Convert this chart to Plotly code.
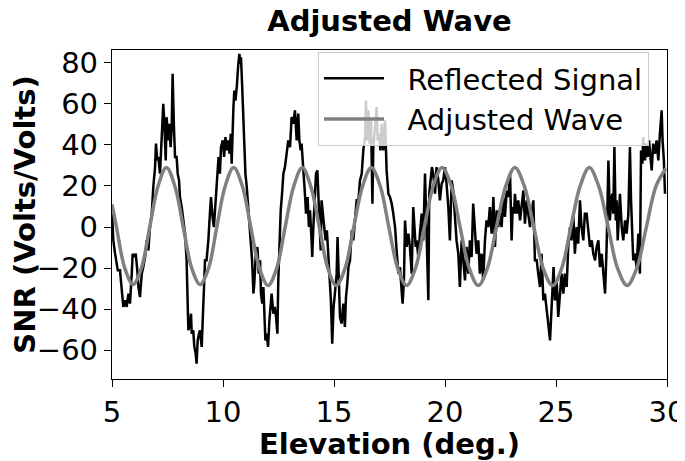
import plotly.graph_objects as go

# Reflected signal (elevation in degrees, SNR in Volts/Volts)
sig_x = [5.00, 5.06, 5.14, 5.26, 5.36, 5.44, 5.51, 5.59, 5.66, 5.74, 5.81, 5.89, 5.93, 6.01, 6.07, 6.14, 6.19, 6.26, 6.34, 6.41,
         6.49, 6.56, 6.64, 6.71, 6.79, 6.86, 6.94, 6.98, 7.04, 7.09, 7.16, 7.24, 7.31, 7.36, 7.42, 7.46, 7.54, 7.58, 7.64, 7.69,
         7.73, 7.79, 7.84, 7.91, 7.96, 8.02, 8.06, 8.14, 8.21, 8.29, 8.36, 8.41, 8.44, 8.51, 8.56, 8.59, 8.66, 8.71, 8.77, 8.81,
         8.86, 8.92, 8.96, 9.04, 9.08, 9.14, 9.19, 9.26, 9.34, 9.41, 9.46, 9.53, 9.59, 9.64, 9.71, 9.76, 9.80, 9.86, 9.91, 9.99,
         10.05, 10.11, 10.17, 10.24, 10.29, 10.35, 10.39, 10.47, 10.51, 10.56, 10.62, 10.69, 10.74, 10.77, 10.81, 10.86, 10.89, 10.92, 10.96, 11.01,
         11.07, 11.11, 11.17, 11.22, 11.26, 11.31, 11.37, 11.41, 11.47, 11.55, 11.61, 11.67, 11.71, 11.77, 11.82, 11.86, 11.91, 11.97, 12.03, 12.09,
         12.15, 12.19, 12.27, 12.33, 12.39, 12.45, 12.49, 12.54, 12.60, 12.66, 12.72, 12.79, 12.87, 12.94, 13.02, 13.09, 13.17, 13.24, 13.32, 13.39,
         13.44, 13.50, 13.54, 13.62, 13.69, 13.74, 13.81, 13.87, 13.92, 13.99, 14.02, 14.07, 14.14, 14.19, 14.25, 14.29, 14.34, 14.40, 14.44, 14.50,
         14.56, 14.62, 14.68, 14.74, 14.80, 14.86, 14.92, 14.98, 15.04, 15.12, 15.16, 15.22, 15.27, 15.34, 15.42, 15.49, 15.54, 15.60, 15.65, 15.72,
         15.80, 15.87, 15.95, 16.02, 16.10, 16.17, 16.25, 16.32, 16.40, 16.44, 16.49, 16.55, 16.61, 16.67, 16.73, 16.77, 16.85, 16.92, 16.97, 17.03,
         17.09, 17.15, 17.22, 17.30, 17.37, 17.45, 17.52, 17.60, 17.67, 17.75, 17.82, 17.90, 17.97, 18.05, 18.09, 18.15, 18.20, 18.27, 18.35, 18.42,
         18.50, 18.57, 18.62, 18.68, 18.72, 18.80, 18.87, 18.95, 19.02, 19.10, 19.14, 19.20, 19.25, 19.29, 19.35, 19.41, 19.47, 19.55, 19.62, 19.70,
         19.77, 19.85, 19.92, 20.00, 20.07, 20.15, 20.22, 20.30, 20.37, 20.45, 20.52, 20.60, 20.67, 20.75, 20.82, 20.90, 20.97, 21.05, 21.12, 21.20,
         21.27, 21.35, 21.42, 21.50, 21.57, 21.65, 21.72, 21.80, 21.87, 21.95, 22.02, 22.10, 22.18, 22.25, 22.33, 22.40, 22.48, 22.55, 22.63, 22.70,
         22.78, 22.85, 22.93, 23.00, 23.05, 23.11, 23.15, 23.23, 23.30, 23.38, 23.45, 23.53, 23.60, 23.68, 23.75, 23.83, 23.90, 23.98, 24.05, 24.13,
         24.20, 24.28, 24.35, 24.43, 24.50, 24.58, 24.65, 24.73, 24.80, 24.85, 24.89, 24.95, 25.03, 25.10, 25.18, 25.25, 25.33, 25.40, 25.48, 25.55,
         25.63, 25.70, 25.78, 25.85, 25.93, 26.00, 26.08, 26.15, 26.23, 26.30, 26.38, 26.46, 26.53, 26.61, 26.68, 26.76, 26.83, 26.91, 26.98, 27.06,
         27.13, 27.21, 27.28, 27.36, 27.43, 27.48, 27.54, 27.58, 27.63, 27.69, 27.73, 27.78, 27.84, 27.88, 27.96, 28.03, 28.11, 28.18, 28.26, 28.33,
         28.38, 28.44, 28.48, 28.56, 28.63, 28.71, 28.78, 28.83, 28.89, 28.93, 29.01, 29.05, 29.13, 29.19, 29.25, 29.31, 29.38, 29.46, 29.53, 29.61,
         29.68, 29.76, 29.80, 29.86, 29.91]
sig_y = [6.5, -6.5, -13.0, -21.1, -21.1, -32.4, -38.9, -35.7, -38.9, -32.4, -37.3, -22.7, -13.0, -14.6, -13.0, -21.1, -29.2, -34.1, -22.7, -19.5,
         -14.6, -6.5, -11.4, 0.0, 6.5, 19.5, 29.2, 40.6, 32.4, 34.1, 26.0, 43.8, 60.0, 50.3, 32.4, 53.5, 42.2, 50.3, 38.9, 48.7,
         74.6, 48.7, 34.1, 34.1, 26.0, 22.7, 14.6, 9.7, 3.2, -3.2, -16.2, -32.4, -50.3, -47.0, -42.2, -51.9, -50.3, -58.4, -61.6, -66.5,
         -55.2, -51.9, -50.3, -58.4, -47.0, -26.0, -16.2, -16.2, -6.5, 6.5, 14.6, 4.9, 0.0, 8.1, 19.5, 29.2, 34.1, 26.0, 38.9, 42.2,
         34.1, 43.8, 37.3, 42.2, 35.7, 45.4, 30.8, 58.4, 66.5, 61.6, 68.1, 79.5, 84.3, 79.5, 82.7, 69.7, 58.4, 50.3, 34.1, 26.0,
         19.5, 13.0, 3.2, 0.0, -9.7, -16.2, -32.4, -27.6, -14.6, -9.7, -22.7, -16.2, -32.4, -37.3, -29.2, -42.2, -55.2, -51.9, -58.4, -45.4,
         -38.9, -32.4, -42.2, -38.9, -43.8, -51.9, -26.0, -6.5, 8.1, 16.2, 26.0, 29.2, 35.7, 42.2, 38.9, 53.5, 50.3, 56.8, 42.2, 55.2,
         42.2, 37.3, 40.6, 29.2, 16.2, 6.5, 14.6, 0.0, 8.1, -6.5, -14.6, 0.0, 19.5, 26.0, 27.6, 14.6, 3.2, -11.4, 13.0, 6.5,
         0.0, -6.5, -1.6, -14.6, -27.6, -35.7, -56.8, -38.9, -32.4, -22.7, -4.9, -22.7, -43.8, -47.0, -37.3, -48.7, -34.1, -27.6, -19.5, -16.2,
         -1.6, -6.5, 3.2, 13.0, 13.0, 22.7, 26.0, 37.3, 43.8, 61.6, 42.2, 56.8, 40.6, 51.9, 11.4, 38.9, 48.7, 58.4, 42.2, 45.4,
         37.3, 50.3, 37.3, 51.9, 27.6, 16.2, 14.6, 11.4, 6.5, 0.0, -11.4, -22.7, -19.5, -32.4, -37.3, -26.0, 3.2, -9.7, -3.2, -9.7,
         -22.7, 9.7, 0.0, -9.7, -6.5, -14.6, -3.2, 6.5, -6.5, 26.0, 9.7, -9.7, -35.7, 16.2, 22.7, 29.2, 26.0, 16.2, 29.2, 22.7,
         13.0, 21.1, 22.7, 29.2, 21.1, 9.7, -6.5, 22.7, 17.8, 3.2, -6.5, -13.0, -29.2, -6.5, -16.2, -26.0, -9.7, -22.7, -6.5, -14.6,
         11.4, 0.0, -13.0, -6.5, -22.7, -13.0, -26.0, -6.5, 3.2, 0.0, 9.7, -3.2, 14.6, -9.7, 8.1, 0.0, 6.5, 0.0, 14.6, 4.9,
         17.8, 14.6, 26.0, -6.5, 9.7, 6.5, 16.2, 6.5, 13.0, 3.2, 9.7, 17.8, 1.6, 13.0, 6.5, 0.0, 6.5, 13.0, -16.2, -16.2,
         -22.7, -29.2, -13.0, -35.7, -32.4, -42.2, -47.0, -55.2, -42.2, -29.2, -19.5, -35.7, -26.0, -43.8, -32.4, -22.7, -32.4, -22.7, -29.2, -9.7,
         0.0, -6.5, 6.5, -13.0, 0.0, -8.1, 13.0, 0.0, -6.5, 6.5, 6.5, -3.2, -9.7, -6.5, -13.0, -16.2, -9.7, -6.5, -19.5, -13.0,
         -22.7, -32.4, -9.7, 32.4, 3.2, 13.0, 16.2, 6.5, 38.9, 3.2, 13.0, -6.5, 6.5, 16.2, 0.0, -6.5, 3.2, -3.2, 6.5, 38.9,
         13.0, -3.2, -16.2, -13.0, -19.5, -3.2, -22.7, 37.3, 30.8, 43.8, 32.4, 40.6, 34.1, 42.2, 35.7, 27.6, 40.6, 35.7, 42.2, 32.4,
         45.4, 56.8, 42.2, 32.4, 16.2]

# Adjusted (fitted) wave, read at extremes, eighth-periods and zero crossings
wave_x = [5.00, 5.20, 5.575, 5.95, 6.325, 6.70, 7.075, 7.45, 7.83, 8.21, 8.59, 8.97, 9.35, 9.72, 10.10, 10.48,
          10.87, 11.25, 11.64, 12.03, 12.42, 12.80, 13.19, 13.57, 13.95, 14.34, 14.72, 15.10, 15.50, 15.89, 16.29, 16.68,
          17.08, 17.47, 17.87, 18.27, 18.67, 19.07, 19.47, 19.87, 20.28, 20.68, 21.09, 21.50, 21.91, 22.32, 22.74, 23.15,
          23.57, 24.00, 24.42, 24.85, 25.26, 25.67, 26.09, 26.50, 26.92, 27.35, 27.77, 28.20, 28.64, 29.07, 29.51, 29.95]
wave_y = [11, 0, -20, -28, -20, 0, 20, 29, 20, 0, -20, -28, -20, 0, 20, 29,
          20, 0, -20, -28.5, -20, 0, 20, 29, 20, 0, -20, -28.5, -20, 0, 20, 29,
          20, 0, -20, -28.5, -20, 0, 20, 29, 20, 0, -20, -28.5, -20, 0, 20, 29,
          20, 0, -20, -28.5, -20, 0, 20, 29, 20, 0, -20, -28.5, -20, 0, 20, 28.5]

x_ticks = [5, 10, 15, 20, 25, 30]
y_ticks = [-60, -40, -20, 0, 20, 40, 60, 80]

FONT = "DejaVu Sans"
FS = 29
GAP = "\u00a0\u00a0"

# The page body has an 8px default margin, so the figure's left/top margins are
# 8px narrower to land the plot where the reference has it.
W, H = 690, 453

fig = go.Figure()
fig.add_trace(go.Scatter(x=sig_x, y=sig_y, mode="lines", name=GAP + "Reflected Signal",
                         line=dict(color="black", width=2.5)))
fig.add_trace(go.Scatter(x=wave_x, y=wave_y, mode="lines", name=GAP + "Adjusted Wave",
                         line=dict(color="#808080", width=3.5, shape="spline", smoothing=1.0)))

axis_common = dict(showgrid=False, zeroline=False, showline=True, linecolor="black", linewidth=1.3,
                   mirror=True, ticks="outside", ticklen=7, tickwidth=1.3, tickcolor="black",
                   automargin=False, ticklabeloverflow="allow",
                   tickfont=dict(family=FONT, size=FS, color="black"))

fig.update_layout(
    width=W, height=H,
    margin=dict(l=104, r=31, t=42, b=82),
    paper_bgcolor="white", plot_bgcolor="white",
    title=dict(text="<b>Adjusted Wave</b>", x=0.5, xref="paper", y=1 - 13 / H, yref="container",
               yanchor="middle", xanchor="center", font=dict(family=FONT, size=FS, color="black")),
    xaxis=dict(range=[5, 30], tickvals=x_ticks, **axis_common,
               title=dict(text="<b>Elevation (deg.)</b>", font=dict(family=FONT, size=FS, color="black"), standoff=4)),
    yaxis=dict(range=[-74, 86.2], tickvals=y_ticks, **axis_common,
               title=dict(text="<b>SNR (Volts/Volts)</b>", font=dict(family=FONT, size=FS, color="black"), standoff=5)),
    legend=dict(x=0.9676, y=0.994, xanchor="right", yanchor="top",
                bgcolor="rgba(255,255,255,0.8)", bordercolor="#cccccc", borderwidth=1,
                font=dict(family=FONT, size=FS, color="black"), itemwidth=60, tracegroupgap=0),
    showlegend=True,
)

fig.write_html("out.html")
